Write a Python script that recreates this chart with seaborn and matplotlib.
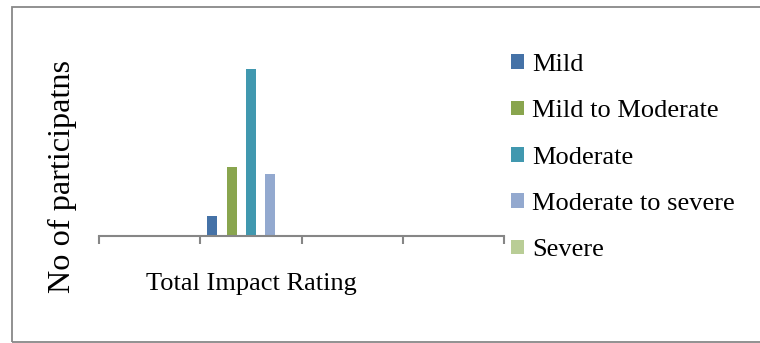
import matplotlib
matplotlib.use("Agg")
import matplotlib.pyplot as plt
from matplotlib.patches import Patch, Rectangle
import seaborn as sns
import pandas as pd

# Number of participants in each impact-severity band
categories = ["Total Impact Rating"]
severity = ["Mild", "Mild to Moderate", "Moderate", "Moderate to severe", "Severe"]
counts = [3, 10, 24, 9, 0]
colors = ["#4572A7", "#89A54E", "#4198AF", "#93A9CF", "#B9CD96"]

df = pd.DataFrame({
    "category": categories * len(severity),
    "severity": severity,
    "count": counts,
})

sns.set_theme(style="white")
plt.rcParams["font.family"] = ["Liberation Serif", "DejaVu Serif"]
plt.rcParams["text.color"] = "black"

fig = plt.figure(figsize=(7.6, 3.43), dpi=100)
ax = fig.add_axes([0.1303, 0.3105, 0.5329, 0.6096])

sns.barplot(data=df, x="category", y="count", hue="severity",
            hue_order=severity, palette=colors, width=0.95, gap=0.48,
            saturation=1, linewidth=0, legend=False, ax=ax)

ax.set_xlim(-1.5, 2.5)
ax.set_ylim(0, 30)

# Category axis: boundary tick marks, label centred in its slot
for side in ["top", "right", "left"]:
    ax.spines[side].set_visible(False)
ax.spines["bottom"].set_color("#868686")
ax.spines["bottom"].set_linewidth(1.5)
ax.set_xticks([0])
ax.set_xticklabels(categories, fontsize=19, color="black")
ax.set_xticks([-1.5, -0.5, 0.5, 1.5, 2.5], minor=True)
ax.tick_params(axis="x", which="major", length=0, pad=26)
ax.tick_params(axis="x", which="minor", length=5.5, width=1.5,
               color="#868686", direction="out", bottom=True)
ax.set_yticks([])
ax.set_xlabel("")
ax.set_ylabel("")

fig.text(62 / 760, 1 - 176.5 / 343, "No of participatns", rotation=90,
         ha="center", va="center", fontsize=23.2, color="black")

handles = [Patch(facecolor=c, edgecolor="none") for c in colors]
leg = fig.legend(handles, severity, loc="upper left",
                 bbox_to_anchor=(0.673, 0.842), frameon=False, fontsize=19,
                 handlelength=0.48, handleheight=0.48, handletextpad=0.3,
                 labelspacing=0.92, borderaxespad=0, borderpad=0)
for t in leg.get_texts():
    t.set_color("black")

# Outer chart border
fig.patches.append(Rectangle((11.5 / 760, 1.5 / 343), 1.2, 334.5 / 343,
                             transform=fig.transFigure, fill=False,
                             edgecolor="#888888", linewidth=1.3))

fig.savefig("out.png", dpi=100)
